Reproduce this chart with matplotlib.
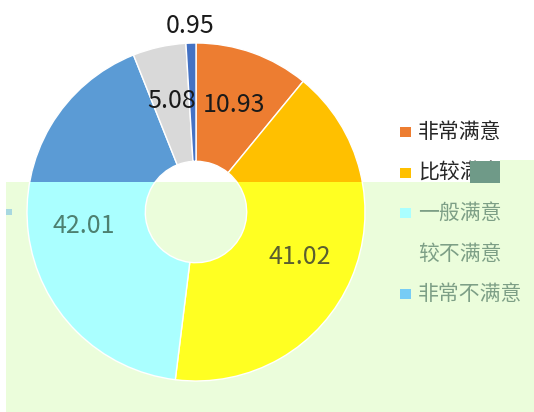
import matplotlib.pyplot as plt
from matplotlib.patches import Rectangle
import numpy as np

plt.rcParams['font.family'] = ['Noto Sans CJK SC', 'DejaVu Sans']

# 满意度调查结果（%）
categorias = ['非常满意', '比较满意', '一般满意', '较不满意', '非常不满意']
valores = [10.93, 41.02, 42.01, 5.08, 0.95]
rotulos = ['10.93', '41.02', '42.01', '5.08', '0.95']

cores = ['#ED7D31', '#FFC000', '#5B9BD5', '#D9D9D9', '#4472C4']
# mesma paleta, vista através da faixa esverdeada da imagem original
cores_verde = ['#F5B070', '#FFFF22', '#AAFFFF', '#E4F6DC', '#77CCF5']
txt_verde = ['#4D8070', '#5A5E30', '#4D8070', '#4D8070', '#4D8070']

W, H = 534, 412
fig = plt.figure(figsize=(W / 100, H / 100), dpi=100)

cx, cy, R = 196, 212, 169
# faixa verde (pixels da imagem): x 6..534, y 182..412
fx0, fy0 = 6, 182


def rosca(ax, cores_fatias, cores_txt):
    fatias, _ = ax.pie(valores, colors=cores_fatias, startangle=90, counterclock=False,
                       radius=1, wedgeprops=dict(width=0.7, edgecolor='white', linewidth=1))
    for w, txt, ct in zip(fatias, rotulos, cores_txt):
        w.set_clip_on(True)
        ang = np.deg2rad((w.theta1 + w.theta2) / 2)
        r = 1.10 if txt == '0.95' else 0.67
        ax.text(r * np.cos(ang), r * np.sin(ang), txt, ha='center', va='center',
                fontsize=18, color=ct, clip_on=True)
    return fatias


ax = fig.add_axes([0, 0, 1, 1], zorder=1)
rosca(ax, cores, ['#1A1A1A'] * 5)
ax.set_aspect('auto')
ax.set_xlim(-cx / R, (W - cx) / R)
ax.set_ylim((cy - H) / R, cy / R)

faixa = Rectangle((fx0 / W, 0), 1 - fx0 / W, (H - fy0) / H, transform=fig.transFigure,
                  facecolor='#EBFDDB', edgecolor='none', zorder=5)
fig.patches.append(faixa)

ax2 = fig.add_axes([fx0 / W, 0, 1 - fx0 / W, (H - fy0) / H], zorder=10)
rosca(ax2, cores_verde, txt_verde)
ax2.set_aspect('auto')
ax2.set_xlim((fx0 - cx) / R, (W - cx) / R)
ax2.set_ylim((cy - H) / R, (cy - fy0) / R)

# legenda
for i, (cat, c, cv) in enumerate(zip(categorias, cores, cores_verde)):
    y = 132 + 40.5 * i
    verde = y > fy0
    cm = cv if verde else c
    ct = '#7D9F86' if verde else '#262626'
    if cat == '较不满意':
        cm = '#EBFDDB'
    fig.patches.append(Rectangle((400 / W, 1 - (y + 5) / H), 11 / W, 10 / H,
                                 transform=fig.transFigure, facecolor=cm,
                                 edgecolor='none', zorder=20))
    fig.text(418 / W, 1 - y / H, cat, ha='left', va='center', fontsize=15,
             color=ct, zorder=21)

# pequenos artefatos da imagem
fig.patches.append(Rectangle((500 / W, 1 - fy0 / H), 34 / W, 22 / H, transform=fig.transFigure,
                             facecolor='#EBFDDB', edgecolor='none', zorder=22))
fig.patches.append(Rectangle((470 / W, 1 - 183 / H), 30 / W, 22 / H, transform=fig.transFigure,
                             facecolor='#6F9A88', edgecolor='none', zorder=23))
fig.patches.append(Rectangle((6 / W, 1 - 215 / H), 6 / W, 6 / H, transform=fig.transFigure,
                             facecolor='#A8D8E0', edgecolor='none', zorder=23))

fig.savefig('out.png', dpi=100, facecolor='white')
